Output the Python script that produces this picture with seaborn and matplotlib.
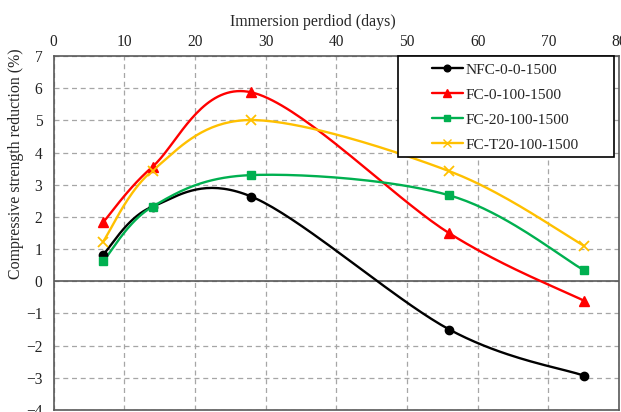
import numpy as np
import pandas as pd
import matplotlib
matplotlib.use("Agg")
import matplotlib.pyplot as plt
from matplotlib.lines import Line2D
from matplotlib.patches import Rectangle
import seaborn as sns

# data
days = [7, 14, 28, 56, 75]
nfc_0_0 = [0.83, 2.32, 2.63, -1.50, -2.93]
fc_0_100 = [1.83, 3.56, 5.87, 1.49, -0.60]
fc_20_100 = [0.62, 2.32, 3.30, 2.67, 0.35]
fc_t20_100 = [1.23, 3.44, 5.01, 3.42, 1.11]

labels = ["NFC-0-0-1500", "FC-0-100-1500", "FC-20-100-1500", "FC-T20-100-1500"]
colors = ["#000000", "#FF0000", "#00B050", "#FFC000"]
markers = ["o", "^", "s", "x"]
msizes = [6, 7, 6, 7]


def smooth(x, y, n=40):
    # excel-style smoothed line (cubic bezier through the points)
    p = np.column_stack([x, y]).astype(float)
    p = np.vstack([p[0], p, p[-1]])
    out = []
    for i in range(1, len(p) - 2):
        p0, p1, p2, p3 = p[i - 1], p[i], p[i + 1], p[i + 2]
        c1 = p1 + (p2 - p0) / 6
        c2 = p2 - (p3 - p1) / 6
        t = np.linspace(0, 1, n)[:, None]
        seg = (1 - t) ** 3 * p1 + 3 * (1 - t) ** 2 * t * c1 + 3 * (1 - t) * t ** 2 * c2 + t ** 3 * p2
        out.append(seg)
    out = np.vstack(out)
    return out[:, 0], out[:, 1]


sns.set_style("white")
plt.rcParams["font.family"] = ["Liberation Serif", "DejaVu Serif"]
plt.rcParams["axes.unicode_minus"] = True

fig = plt.figure(figsize=(6.21, 4.12), dpi=100)
ax = fig.add_axes([53.6 / 621, 1 - 410 / 412, (619 - 53.6) / 621, (410 - 56) / 412])

series = [nfc_0_0, fc_0_100, fc_20_100, fc_t20_100]
for lab, ys, c in zip(labels, series, colors):
    sx, sy = smooth(days, ys)
    sns.lineplot(x=sx, y=sy, color=c, sort=False, lw=1.7, estimator=None, ax=ax, zorder=3)

for ys, c, m, s in zip(series, colors, markers, msizes):
    ax.plot(days, ys, ls="none", marker=m, color=c, ms=s, mew=1.3 if m == "x" else 1, zorder=4)

ax.set_xlim(0, 80)
ax.set_ylim(-4, 7)
ax.set_xticks(range(0, 81, 10))
ax.set_yticks(range(-4, 8))
ax.xaxis.tick_top()
ax.xaxis.set_label_position("top")
ax.tick_params(axis="both", length=0, labelsize=11.2, colors="#222222")
ax.tick_params(axis="x", pad=4)
ax.tick_params(axis="y", pad=8)
ax.grid(True, ls=(0, (4, 3)), color="#A6A6A6", lw=0.9)
ax.axhline(0, color="#595959", lw=1.2, zorder=2)
for sp in ax.spines.values():
    sp.set_color("#595959")
    sp.set_linewidth(1.2)

ax.set_xlabel("Immersion perdiod (days)", fontsize=11.4, va="center")
ax.xaxis.set_label_coords(0.459, 1.096)
ax.set_ylabel("Compressive strength reduction (%)", fontsize=11.4, va="center")
ax.yaxis.set_label_coords(-0.067, 0.696)

# legend box
box = Rectangle((398 / 621, 1 - 157 / 412), (614 - 398) / 621, (157 - 56) / 412,
                transform=fig.transFigure, facecolor="white", edgecolor="black",
                lw=1.2, zorder=5, clip_on=False)
ax.add_patch(box)
handles = [Line2D([], [], color=c, marker=m, ms=s * 0.8, lw=1.7) for c, m, s in zip(colors, markers, msizes)]
leg = ax.legend(handles, labels, loc="upper left", bbox_to_anchor=(424 / 621, 1 - 55 / 412),
                bbox_transform=fig.transFigure, frameon=False, fontsize=11.1,
                handlelength=2.0, handletextpad=0.2, labelspacing=0.73, borderpad=0)
leg.set_zorder(6)

fig.savefig("out.png", dpi=100)
